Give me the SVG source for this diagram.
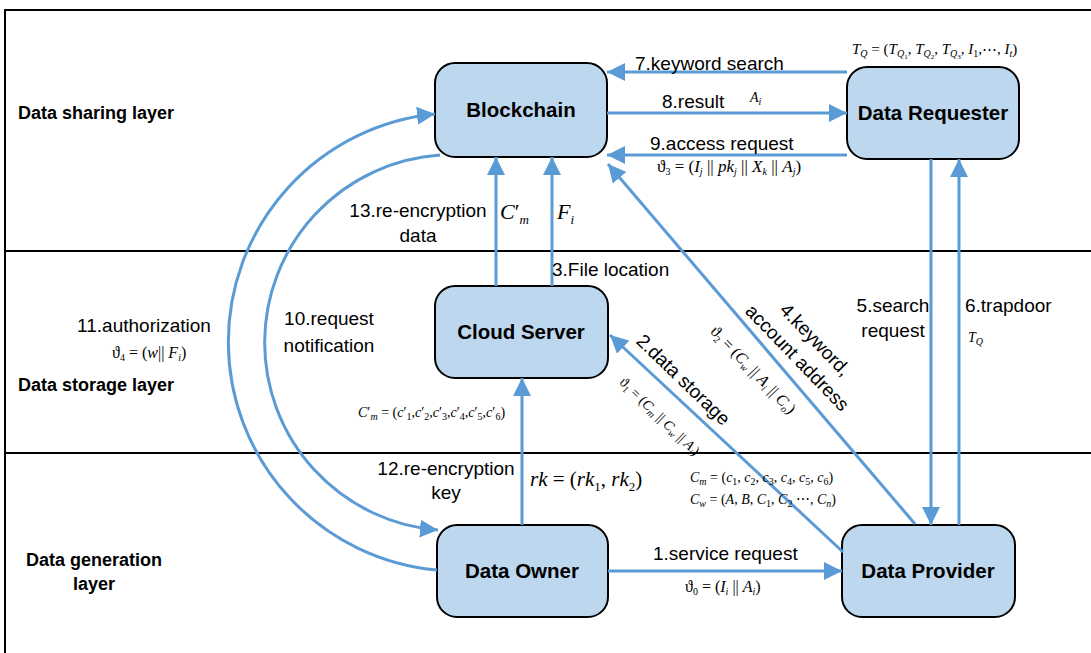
<svg xmlns="http://www.w3.org/2000/svg" width="1091" height="653" viewBox="0 0 1091 653">
<style>
.t{font-family:"Liberation Sans",Arial,sans-serif;font-size:19px;fill:#000}
.b{font-family:"Liberation Sans",Arial,sans-serif;font-size:18px;font-weight:bold;fill:#000}
.n{font-family:"Liberation Sans",Arial,sans-serif;font-size:20.5px;font-weight:bold;fill:#000;text-anchor:middle}
.m{font-family:"Liberation Serif","DejaVu Serif",serif;font-size:15px;fill:#000}
.i{font-style:italic}
.sb{font-size:10px;baseline-shift:-3px}
.ss{font-size:7px;baseline-shift:-2px}
.box{fill:#BDD7EE;stroke:#000;stroke-width:2}
.c{fill:none;stroke:#5B9BD5;stroke-width:3;marker-end:url(#ah)}
.frame{stroke:#000;stroke-width:2;fill:none}
</style>
<defs>
<marker id="ah" markerUnits="userSpaceOnUse" markerWidth="19" markerHeight="18" refX="18" refY="9" orient="auto">
<path d="M0,0 L18,9 L0,18 z" fill="#5B9BD5"/>
</marker>
</defs>
<rect width="1091" height="653" fill="#fff"/>
<g id="frame">
<path class="frame" d="M5,653 L5,10 L1091,10" stroke-width="2.5"/>
<line class="frame" x1="5" y1="251" x2="1091" y2="251"/>
<line class="frame" x1="5" y1="453" x2="1091" y2="453"/>
<text class="b" x="18" y="119">Data sharing layer</text>
<text class="b" x="18" y="391">Data storage layer</text>
<text class="b" x="94" y="566" text-anchor="middle">Data generation</text>
<text class="b" x="94" y="590" text-anchor="middle">layer</text>
</g>
<g id="blockchain"><rect class="box" x="435" y="63" width="172" height="94" rx="20"/><text class="n" x="521" y="117">Blockchain</text></g>
<g id="data-requester"><rect class="box" x="847" y="67" width="172" height="92" rx="20"/><text class="n" x="933" y="120">Data Requester</text></g>
<g id="cloud-server"><rect class="box" x="435" y="286" width="173" height="92" rx="20"/><text class="n" x="521" y="339">Cloud Server</text></g>
<g id="data-owner"><rect class="box" x="437" y="525" width="171" height="92" rx="20"/><text class="n" x="522" y="578">Data Owner</text></g>
<g id="data-provider"><rect class="box" x="842" y="525" width="173" height="92" rx="20"/><text class="n" x="928" y="578">Data Provider</text></g>
<g id="connectors">
<line class="c" x1="847" y1="72" x2="607" y2="72"/>
<line class="c" x1="607" y1="113" x2="847" y2="113"/>
<line class="c" x1="847" y1="155" x2="607" y2="155"/>
<line class="c" x1="496" y1="286" x2="496" y2="157"/>
<line class="c" x1="552" y1="286" x2="552" y2="157"/>
<line class="c" x1="522" y1="525" x2="522" y2="378"/>
<line class="c" x1="931" y1="159" x2="931" y2="525"/>
<line class="c" x1="959" y1="525" x2="959" y2="159"/>
<line class="c" x1="915" y1="524" x2="608" y2="164"/>
<line class="c" x1="843" y1="552" x2="610" y2="335"/>
<line class="c" x1="608" y1="571" x2="842" y2="571"/>
<path class="c" d="M437,570 A229,229 0 0 1 435,114"/>
<path class="c" d="M440,155 A188,188 0 0 0 438,530"/>
</g>
<g id="labels">
<text class="t" x="635" y="70">7.keyword search</text>
<text class="t" x="662" y="108">8.result</text>
<text class="m" x="750" y="102" style="font-size:14px"><tspan class="i">A</tspan><tspan class="sb i">i</tspan></text>
<text class="t" x="650" y="150">9.access request</text>
<text class="m" x="657" y="172" style="font-size:17px">ϑ<tspan class="sb">3</tspan> = (<tspan class="i">I</tspan><tspan class="sb i">j</tspan> || <tspan class="i">pk</tspan><tspan class="sb i">j</tspan> || <tspan class="i">X</tspan><tspan class="sb i">k</tspan> || <tspan class="i">A</tspan><tspan class="sb i">j</tspan>)</text>
<text class="m" x="852" y="54"><tspan class="i">T</tspan><tspan class="sb i">Q</tspan> = (<tspan class="i">T</tspan><tspan class="sb"><tspan class="i">Q</tspan><tspan class="ss">1</tspan></tspan>, <tspan class="i">T</tspan><tspan class="sb"><tspan class="i">Q</tspan><tspan class="ss">2</tspan></tspan>, <tspan class="i">T</tspan><tspan class="sb"><tspan class="i">Q</tspan><tspan class="ss">3</tspan></tspan>, <tspan class="i">I</tspan><tspan class="sb">1</tspan>,⋯, <tspan class="i">I</tspan><tspan class="sb i">t</tspan>)</text>
<text class="t" x="418" y="217" text-anchor="middle">13.re-encryption</text>
<text class="t" x="418" y="242" text-anchor="middle">data</text>
<text class="m" x="500" y="219" style="font-size:22px"><tspan class="i">C</tspan>′<tspan class="i" style="font-size:13px;baseline-shift:-5px">m</tspan></text>
<text class="m" x="557" y="219" style="font-size:22px"><tspan class="i">F</tspan><tspan class="i" style="font-size:13px;baseline-shift:-5px">i</tspan></text>
<text class="t" x="552" y="276">3.File location</text>
<text class="t" x="144" y="332" text-anchor="middle">11.authorization</text>
<text class="m" x="112" y="358" style="font-size:16px">ϑ<tspan class="sb">4</tspan> = (<tspan class="i">w</tspan>|| <tspan class="i">F</tspan><tspan class="sb i">i</tspan>)</text>
<text class="t" x="329" y="325" text-anchor="middle">10.request</text>
<text class="t" x="329" y="352" text-anchor="middle">notification</text>
<text class="m" x="358" y="417" style="font-size:14px"><tspan class="i">C</tspan>′<tspan class="sb i">m</tspan> = (<tspan class="i">c</tspan>′<tspan class="sb">1</tspan>,<tspan class="i">c</tspan>′<tspan class="sb">2</tspan>,<tspan class="i">c</tspan>′<tspan class="sb">3</tspan>,<tspan class="i">c</tspan>′<tspan class="sb">4</tspan>,<tspan class="i">c</tspan>′<tspan class="sb">5</tspan>,<tspan class="i">c</tspan>′<tspan class="sb">6</tspan>)</text>
<text class="t" x="446" y="475" text-anchor="middle">12.re-encryption</text>
<text class="t" x="446" y="499" text-anchor="middle">key</text>
<text class="m" x="530" y="486" style="font-size:21px"><tspan class="i">rk</tspan> = (<tspan class="i">rk</tspan><tspan style="font-size:13px;baseline-shift:-5px">1</tspan>, <tspan class="i">rk</tspan><tspan style="font-size:13px;baseline-shift:-5px">2</tspan>)</text>
<text class="m" x="690" y="482" style="font-size:14px"><tspan class="i">C</tspan><tspan class="sb i">m</tspan> = (<tspan class="i">c</tspan><tspan class="sb">1</tspan>, <tspan class="i">c</tspan><tspan class="sb">2</tspan>, <tspan class="i">c</tspan><tspan class="sb">3</tspan>, <tspan class="i">c</tspan><tspan class="sb">4</tspan>, <tspan class="i">c</tspan><tspan class="sb">5</tspan>, <tspan class="i">c</tspan><tspan class="sb">6</tspan>)</text>
<text class="m" x="690" y="504" style="font-size:14px"><tspan class="i">C</tspan><tspan class="sb i">w</tspan> = (<tspan class="i">A</tspan>, <tspan class="i">B</tspan>, <tspan class="i">C</tspan><tspan class="sb">1</tspan>, <tspan class="i">C</tspan><tspan class="sb">2</tspan> ⋯, <tspan class="i">C</tspan><tspan class="sb i">n</tspan>)</text>
<text class="t" x="653" y="560">1.service request</text>
<text class="m" x="685" y="592" style="font-size:16px">ϑ<tspan class="sb">0</tspan> = (<tspan class="i">I</tspan><tspan class="sb i">i</tspan> || <tspan class="i">A</tspan><tspan class="sb i">i</tspan>)</text>
<text class="t" x="893" y="312" text-anchor="middle">5.search</text>
<text class="t" x="893" y="337" text-anchor="middle">request</text>
<text class="t" x="965" y="312">6.trapdoor</text>
<text class="m" x="968" y="342" style="font-size:14px"><tspan class="i">T</tspan><tspan class="sb i">Q</tspan></text>
<g transform="translate(815,340) rotate(46)"><text class="t" x="0" y="6" text-anchor="middle">4.keyword,</text></g>
<g transform="translate(797,358) rotate(46)"><text class="t" x="0" y="6" text-anchor="middle">account address</text></g>
<g transform="translate(753,370) rotate(46)"><text class="m" x="0" y="5" style="font-size:16px" text-anchor="middle">ϑ<tspan class="sb">2</tspan> = (<tspan class="i">C</tspan><tspan class="sb i">w</tspan> || <tspan class="i">A</tspan><tspan class="sb i">i</tspan> || <tspan class="i">C</tspan><tspan class="sb i">o</tspan>)</text></g>
<g transform="translate(683,380) rotate(44)"><text class="t" x="0" y="6" text-anchor="middle">2.data storage</text></g>
<g transform="translate(660,416) rotate(44)"><text class="m" x="0" y="5" style="font-size:14px" text-anchor="middle">ϑ<tspan class="sb">1</tspan> = (<tspan class="i">C</tspan><tspan class="sb i">m</tspan> || <tspan class="i">C</tspan><tspan class="sb i">w</tspan> || <tspan class="i">A</tspan><tspan class="sb i">i</tspan>)</text></g>
</g>
</svg>
